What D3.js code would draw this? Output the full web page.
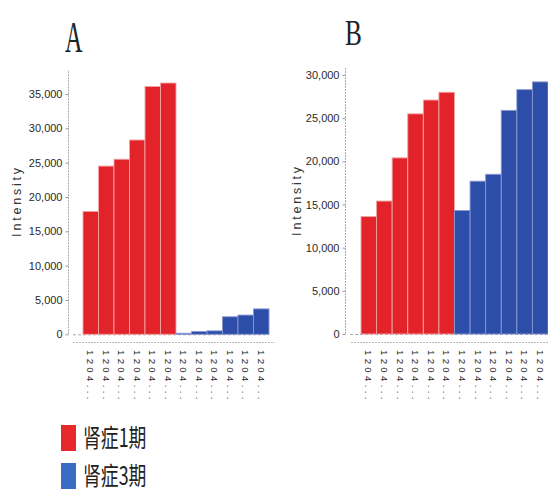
<!DOCTYPE html>
<html>
<head>
<meta charset="utf-8">
<script src="https://cdn.jsdelivr.net/npm/d3@7"></script>
<style>
  html, body { margin: 0; padding: 0; background: #fff; }
  svg { display: block; }
</style>
</head>
<body>
<svg id="chart" width="548" height="492"></svg>
<script>
// Sample labels (truncated IDs) shared by both panels
const categories = ["1204...", "1204...", "1204...", "1204...", "1204...", "1204...",
                    "1204...", "1204...", "1204...", "1204...", "1204...", "1204..."];
// Stage group of each sample
const groups = ["肾症1期", "肾症3期"];
const sampleGroup = ["肾症1期", "肾症1期", "肾症1期", "肾症1期", "肾症1期", "肾症1期",
                     "肾症3期", "肾症3期", "肾症3期", "肾症3期", "肾症3期", "肾症3期"];
// Intensity values per sample
const intensityA = [17900, 24500, 25500, 28300, 36100, 36600, 150, 400, 500, 2550, 2800, 3700];
const intensityB = [13600, 15400, 20400, 25500, 27100, 28000, 14300, 17700, 18500, 25900, 28300, 29200];
// Axis ticks
const ticksA = [0, 5000, 10000, 15000, 20000, 25000, 30000, 35000];
const ticksB = [0, 5000, 10000, 15000, 20000, 25000, 30000];

const barColor = d3.scaleOrdinal().domain(groups).range(["#e3232a", "#2d4ea8"]);
const barEdge = d3.scaleOrdinal().domain(groups).range(["#f3a3a3", "#8796d2"]);
const legendColor = d3.scaleOrdinal().domain(groups).range(["#e8292b", "#3a6cc4"]);

const svg = d3.select("#chart");
const fmt = d3.format(",");

function panel(cfg) {
  const g = svg.append("g");
  const y = d3.scaleLinear().domain([0, cfg.ticks[cfg.ticks.length - 1]]).range(cfg.yRange);
  const x = d3.scaleBand().domain(d3.range(categories.length)).range(cfg.xRange).padding(0);

  // panel letter
  g.append("text")
    .attr("transform", `translate(${cfg.titleX},${cfg.titleY}) scale(${cfg.titleScale},1)`)
    .attr("font-family", "Liberation Serif, serif")
    .attr("font-size", cfg.titleSize)
    .attr("fill", "#222")
    .text(cfg.title);

  // y axis
  const axis = g.append("g")
    .attr("transform", `translate(${cfg.axisX},0)`)
    .call(d3.axisLeft(y).tickValues(cfg.ticks).tickFormat(fmt).tickSize(3).tickPadding(3));
  axis.select(".domain").remove();
  axis.selectAll(".tick line").attr("stroke", "#999");
  axis.selectAll(".tick text")
    .attr("font-family", "Liberation Sans, Arial, sans-serif")
    .attr("font-size", 11)
    .attr("fill", "#2a2a2a");
  g.append("line")
    .attr("x1", cfg.axisX).attr("x2", cfg.axisX)
    .attr("y1", y(0)).attr("y2", y(cfg.axisTop))
    .attr("stroke", "#aaa").attr("stroke-dasharray", "2,1");

  // y label
  g.append("text")
    .attr("transform", `translate(${cfg.labelX},${cfg.labelY}) rotate(-90)`)
    .attr("text-anchor", "middle")
    .attr("font-family", "Liberation Sans, Arial, sans-serif")
    .attr("font-size", 12.5)
    .attr("letter-spacing", 2.8)
    .attr("fill", "#333")
    .text("Intensity");

  // zero baseline
  g.append("line")
    .attr("x1", cfg.zeroX1).attr("x2", cfg.xRange[1])
    .attr("y1", y(0) + 0.5).attr("y2", y(0) + 0.5)
    .attr("stroke", "#aaa").attr("stroke-dasharray", "3,2");

  // bars
  g.selectAll("rect.bar")
    .data(cfg.values)
    .join("rect")
    .attr("class", "bar")
    .attr("x", (d, i) => x(i))
    .attr("width", x.bandwidth())
    .attr("y", d => y(d))
    .attr("height", d => y(0) - y(d))
    .attr("fill", (d, i) => barColor(sampleGroup[i]))
    .attr("stroke", (d, i) => barEdge(sampleGroup[i]))
    .attr("stroke-width", 0.9);

  // bottom axis line
  g.append("line")
    .attr("x1", cfg.baseX1).attr("x2", cfg.baseX2)
    .attr("y1", 342.5).attr("y2", 342.5)
    .attr("stroke", "#bbb").attr("stroke-dasharray", "2,1");

  // category labels, rotated
  g.selectAll("text.cat")
    .data(categories)
    .join("text")
    .attr("class", "cat")
    .attr("transform", (d, i) => `translate(${x(i) + x.bandwidth() / 2},350) rotate(90)`)
    .attr("dy", "0.35em")
    .attr("font-family", "Liberation Sans, Arial, sans-serif")
    .attr("font-size", 9.5)
    .attr("letter-spacing", 3.4)
    .attr("fill", "#222")
    .text(d => d);
}

panel({
  title: "A", titleX: 65, titleY: 52, titleSize: 44, titleScale: 0.55,
  values: intensityA, ticks: ticksA, axisTop: 38500,
  yRange: [334.3, 94], xRange: [83, 269], axisX: 68.5,
  labelX: 21, labelY: 201, zeroX1: 73, baseX1: 73, baseX2: 275
});

panel({
  title: "B", titleX: 345, titleY: 45, titleSize: 36, titleScale: 0.7,
  values: intensityB, ticks: ticksB, axisTop: 30800,
  yRange: [334, 75], xRange: [361, 548], axisX: 345.5,
  labelX: 301, labelY: 200, zeroX1: 350, baseX1: 351, baseX2: 548
});

// legend
const legend = svg.append("g");
const legendY = [425, 463];
groups.forEach((grp, i) => {
  legend.append("rect")
    .attr("x", 61).attr("y", legendY[i])
    .attr("width", 15).attr("height", 26)
    .attr("fill", legendColor(grp));
  legend.append("text")
    .attr("transform", `translate(83,${legendY[i] + 22}) scale(0.7,1)`)
    .attr("font-family", "Noto Sans CJK SC, sans-serif")
    .attr("font-size", 25.5)
    .attr("fill", "#222")
    .text(grp);
});
</script>
</body>
</html>
